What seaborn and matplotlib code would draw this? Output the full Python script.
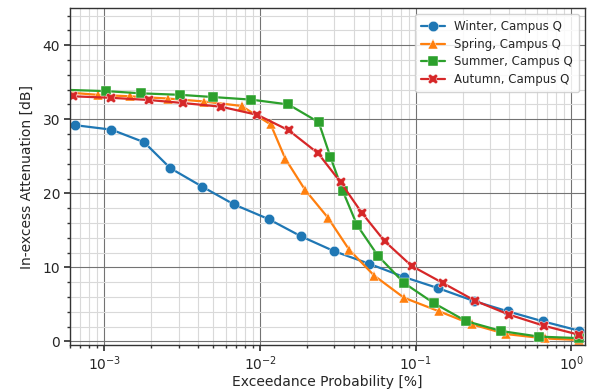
import numpy as np
import pandas as pd
import matplotlib
matplotlib.use("Agg")
import matplotlib.pyplot as plt
import seaborn as sns
from matplotlib.ticker import LogLocator, MultipleLocator, NullFormatter

# exceedance probability [%] and in-excess attenuation [dB] per season
winter_p = [6.5e-4, 1.11e-3, 1.8e-3, 2.65e-3, 4.25e-3, 6.8e-3, 1.14e-2, 1.83e-2,
            2.98e-2, 5.0e-2, 8.4e-2, 0.139, 0.237, 0.392, 0.66, 1.12]
winter_a = [29.2, 28.6, 26.9, 23.4, 20.9, 18.5, 16.5, 14.2,
            12.2, 10.5, 8.7, 7.2, 5.45, 4.05, 2.7, 1.45]

spring_p = [5.2e-4, 9.06e-4, 1.46e-3, 2.55e-3, 4.37e-3, 7.6e-3, 1.17e-2, 1.45e-2,
            1.94e-2, 2.73e-2, 3.73e-2, 5.4e-2, 8.4e-2, 0.14, 0.23, 0.38, 0.68, 1.11]
spring_a = [33.7, 33.3, 33.1, 32.8, 32.4, 31.8, 29.3, 24.7,
            20.5, 16.7, 12.4, 8.9, 5.9, 4.1, 2.3, 1.0, 0.4, 0.2]

summer_p = [5.2e-4, 1.03e-3, 1.73e-3, 3.07e-3, 5.0e-3, 8.8e-3, 1.52e-2, 2.38e-2,
            2.83e-2, 3.4e-2, 4.2e-2, 5.7e-2, 8.4e-2, 0.13, 0.21, 0.355, 0.62, 1.11]
summer_a = [34.0, 33.8, 33.5, 33.3, 33.0, 32.65, 32.0, 29.6,
            24.9, 20.3, 15.7, 11.6, 7.9, 5.2, 2.75, 1.4, 0.65, 0.45]

autumn_p = [6.3e-4, 1.1e-3, 1.94e-3, 3.18e-3, 5.6e-3, 9.6e-3, 1.53e-2, 2.36e-2,
            3.29e-2, 4.49e-2, 6.3e-2, 9.4e-2, 0.149, 0.24, 0.40, 0.67, 1.12]
autumn_a = [33.1, 32.9, 32.6, 32.2, 31.7, 30.6, 28.5, 25.4,
            21.5, 17.4, 13.55, 10.2, 7.9, 5.5, 3.6, 2.1, 0.9]

labels = ["Winter, Campus Q", "Spring, Campus Q", "Summer, Campus Q", "Autumn, Campus Q"]

frames = []
for name, p, a in zip(labels, [winter_p, spring_p, summer_p, autumn_p],
                      [winter_a, spring_a, summer_a, autumn_a]):
    frames.append(pd.DataFrame({"p": p, "att": a, "season": name}))
df = pd.concat(frames, ignore_index=True)

sns.set_theme(style="ticks")
plt.rcParams["font.family"] = ["DejaVu Sans"]

fig, ax = plt.subplots(figsize=(5.92, 3.9), dpi=100)
fig.subplots_adjust(left=0.118, right=0.988, top=0.979, bottom=0.115)

sns.lineplot(data=df, x="p", y="att", hue="season", style="season",
             markers=["o", "^", "s", "X"], dashes=False, palette="tab10",
             markersize=7.5, linewidth=1.6, markeredgewidth=0.3, sort=False,
             estimator=None, ax=ax)

ax.set_xscale("log")
ax.set_xlim(6.0e-4, 1.22)
ax.set_ylim(-0.5, 45)
ax.xaxis.set_major_locator(LogLocator(base=10, numticks=10))
ax.xaxis.set_minor_locator(LogLocator(base=10, subs=np.arange(2, 10), numticks=20))
ax.xaxis.set_minor_formatter(NullFormatter())
ax.yaxis.set_major_locator(MultipleLocator(10))
ax.yaxis.set_minor_locator(MultipleLocator(2))

ax.grid(True, which="major", color="0.45", linewidth=0.8)
ax.grid(True, which="minor", color="0.85", linewidth=0.8)
ax.set_axisbelow(True)

for s in ax.spines.values():
    s.set_color("0.2")
    s.set_linewidth(1.0)
ax.tick_params(which="major", direction="out", length=4, labelsize=10, color="0.2", pad=3)
ax.tick_params(which="minor", direction="out", length=2.5, color="0.2")

ax.set_xlabel("Exceedance Probability [%]", fontsize=10, labelpad=1)
ax.set_ylabel("In-excess Attenuation [dB]", fontsize=10, labelpad=6)

leg = ax.legend(loc="upper right", fontsize=8.5, frameon=True, fancybox=True,
                framealpha=0.85, edgecolor="0.8", borderpad=0.5, labelspacing=0.4)
leg.set_title(None)

fig.savefig("out.png", dpi=100)
